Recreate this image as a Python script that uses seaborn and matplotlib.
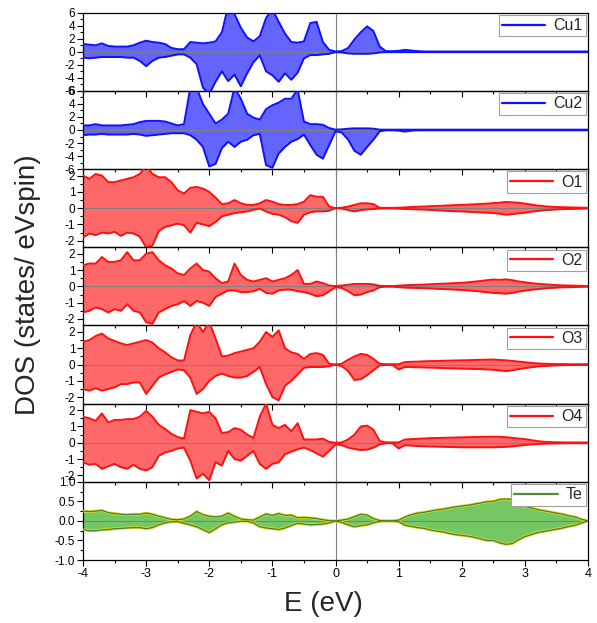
import numpy as np
import matplotlib
matplotlib.use("Agg")
import matplotlib.pyplot as plt
from matplotlib.lines import Line2D
from matplotlib.ticker import MultipleLocator, FormatStrFormatter
import seaborn as sns

# energy grid, 0.1 eV steps; each row below covers 1 eV (-4.0..-3.1, -3.0..-2.1, ...)
energy = np.round(np.linspace(-4, 4, 81), 2)

cu1_up = [1.2, 1.1, 1.0, 1.3, 0.9, 0.8, 0.8, 0.8, 1.0, 1.4,
          1.7, 1.5, 1.4, 1.2, 0.6, 0.4, 0.4, 1.5, 1.4, 1.3,
          1.4, 1.6, 3.0, 7.0, 5.8, 3.7, 2.2, 1.6, 2.4, 5.2,
          6.5, 4.6, 2.8, 1.5, 1.4, 1.6, 4.4, 4.6, 1.5, 0.3,
          0.05, 0.1, 0.6, 1.9, 3.0, 3.9, 3.2, 0.8, 0.1, 0.1,
          0.15, 0.3, 0.2, 0.1, 0.05, 0.05, 0.05, 0.05, 0.05, 0.05,
          0.05, 0.05, 0.05, 0.05, 0.05, 0.05, 0.05, 0.05, 0.05, 0.05,
          0.05, 0.05, 0.05, 0.05, 0.05, 0.05, 0.05, 0.05, 0.05, 0.05,
          0.05]
cu1_dn = [-0.9, -1.0, -0.9, -0.8, -0.8, -0.8, -0.8, -0.9, -0.9, -1.4,
          -2.2, -1.4, -0.9, -0.8, -0.6, -0.4, -0.4, -0.9, -1.9, -5.5,
          -6.5, -4.6, -3.0, -4.5, -3.5, -5.3, -3.3, -1.6, -0.55, -3.0,
          -3.6, -4.6, -3.3, -4.3, -3.2, -1.0, -0.5, -0.5, -0.4, -0.3,
          -0.05, -0.1, -0.25, -0.3, -0.3, -0.3, -0.25, -0.1, -0.05, -0.05,
          -0.05, -0.05, -0.05, -0.05, -0.05, -0.05, -0.05, -0.05, -0.05, -0.05,
          -0.05, -0.05, -0.05, -0.05, -0.05, -0.05, -0.05, -0.05, -0.05, -0.05,
          -0.05, -0.05, -0.05, -0.05, -0.05, -0.05, -0.05, -0.05, -0.05, -0.05,
          -0.05]

cu2_up = [0.7, 0.7, 0.9, 0.7, 0.7, 0.7, 0.7, 0.8, 0.9, 1.2,
          1.4, 1.4, 1.4, 1.3, 1.0, 0.7, 0.9, 6.5, 6.5, 4.0,
          2.5, 1.0, 1.6, 2.5, 6.5, 4.8, 2.5, 1.9, 1.6, 3.2,
          3.8, 4.2, 4.8, 4.8, 6.2, 1.3, 0.9, 0.9, 0.8, 0.3,
          0.05, 0.1, 0.2, 0.25, 0.25, 0.25, 0.2, 0.05, 0.05, 0.05,
          0.05, 0.05, 0.05, 0.05, 0.05, 0.05, 0.05, 0.05, 0.05, 0.05,
          0.05, 0.05, 0.05, 0.05, 0.05, 0.05, 0.05, 0.05, 0.05, 0.05,
          0.05, 0.05, 0.05, 0.05, 0.05, 0.05, 0.05, 0.05, 0.05, 0.05,
          0.05]
cu2_dn = [-0.8, -0.7, -0.7, -0.6, -0.7, -0.7, -0.7, -0.7, -0.6, -0.7,
          -0.9, -0.8, -0.7, -0.6, -0.5, -0.5, -0.5, -0.8, -1.5, -2.6,
          -5.6, -5.2, -2.8, -1.8, -2.6, -1.8, -1.5, -0.8, -0.6, -5.4,
          -5.8, -3.6, -2.6, -1.8, -1.4, -0.7, -2.3, -3.8, -4.4, -2.3,
          -0.2, -0.4, -1.5, -3.2, -3.8, -2.6, -1.5, -0.2, -0.05, -0.05,
          -0.1, -0.25, -0.1, -0.05, -0.05, -0.05, -0.05, -0.05, -0.05, -0.05,
          -0.05, -0.05, -0.05, -0.05, -0.05, -0.05, -0.05, -0.05, -0.05, -0.05,
          -0.05, -0.05, -0.05, -0.05, -0.05, -0.05, -0.05, -0.05, -0.05, -0.05,
          -0.05]

o1_up = [2.0, 1.8, 2.1, 2.0, 1.6, 1.6, 1.7, 1.8, 1.9, 2.1,
         2.6, 2.1, 1.9, 1.9, 1.6, 1.1, 0.9, 1.25, 1.3, 1.2,
         1.0, 0.65, 0.25, 0.3, 0.5, 0.3, 0.2, 0.2, 0.3, 0.5,
         0.4, 0.25, 0.2, 0.2, 0.25, 0.4, 0.8, 0.7, 0.7, 0.1,
         0.0, 0.03, 0.1, 0.2, 0.3, 0.3, 0.25, 0.02, 0.02, 0.02,
         0.03, 0.05, 0.07, 0.09, 0.1, 0.12, 0.14, 0.15, 0.17, 0.19,
         0.2, 0.22, 0.24, 0.26, 0.28, 0.31, 0.34, 0.38, 0.36, 0.33,
         0.28, 0.22, 0.16, 0.12, 0.09, 0.07, 0.06, 0.05, 0.04, 0.03,
         0.02]
o1_dn = [-1.8, -1.55, -1.65, -1.5, -1.55, -1.45, -1.7, -1.5, -1.55, -1.75,
         -2.4, -2.3, -1.4, -1.15, -1.05, -0.95, -1.05, -1.5, -0.9, -1.0,
         -1.1, -0.85, -0.5, -0.4, -0.3, -0.25, -0.2, -0.1, -0.02, -0.2,
         -0.35, -0.4, -0.55, -0.8, -0.9, -0.4, -0.25, -0.2, -0.2, -0.15,
         0.0, -0.02, -0.12, -0.2, -0.12, -0.08, -0.05, -0.02, -0.02, -0.02,
         -0.03, -0.05, -0.06, -0.08, -0.09, -0.11, -0.13, -0.15, -0.17, -0.19,
         -0.2, -0.22, -0.24, -0.26, -0.28, -0.3, -0.34, -0.4, -0.36, -0.32,
         -0.28, -0.22, -0.17, -0.13, -0.1, -0.08, -0.06, -0.05, -0.04, -0.03,
         -0.02]

o2_up = [1.3, 1.4, 1.4, 1.8, 1.5, 1.5, 1.6, 2.1, 1.6, 1.6,
         2.0, 2.1, 1.6, 1.3, 1.1, 0.8, 0.7, 1.1, 1.4, 1.0,
         0.9, 0.5, 0.2, 0.3, 1.4, 0.7, 0.4, 0.3, 0.4, 0.5,
         0.3, 0.4, 0.5, 0.7, 1.0, 0.15, 0.15, 0.3, 0.2, 0.05,
         0.02, 0.05, 0.1, 0.15, 0.15, 0.15, 0.12, 0.03, 0.02, 0.02,
         0.04, 0.07, 0.08, 0.1, 0.11, 0.13, 0.15, 0.16, 0.18, 0.2,
         0.22, 0.25, 0.29, 0.33, 0.38, 0.42, 0.4, 0.43, 0.38, 0.3,
         0.25, 0.2, 0.16, 0.13, 0.1, 0.08, 0.06, 0.05, 0.04, 0.03,
         0.02]
o2_dn = [-1.6, -1.5, -1.3, -1.4, -1.6, -1.4, -1.5, -1.1, -1.5, -1.6,
         -2.2, -2.3, -1.6, -1.4, -1.2, -1.1, -0.9, -1.2, -0.9, -1.0,
         -1.2, -0.65, -0.45, -0.25, -0.25, -0.35, -0.35, -0.3, -0.15, -0.4,
         -0.45, -0.25, -0.2, -0.2, -0.3, -0.35, -0.45, -0.6, -0.55, -0.3,
         -0.05, -0.1, -0.3, -0.55, -0.5, -0.35, -0.25, -0.05, -0.02, -0.02,
         -0.05, -0.08, -0.09, -0.1, -0.11, -0.13, -0.15, -0.16, -0.18, -0.2,
         -0.22, -0.25, -0.28, -0.32, -0.36, -0.4, -0.42, -0.45, -0.4, -0.32,
         -0.26, -0.21, -0.17, -0.13, -0.1, -0.08, -0.06, -0.05, -0.04, -0.03,
         -0.02]

o3_up = [1.4, 1.5, 1.75, 1.9, 1.6, 1.45, 1.3, 1.2, 1.3, 1.4,
         1.5, 1.35, 1.0, 0.75, 0.45, 0.25, 0.25, 1.8, 2.6, 2.0,
         2.6, 1.6, 0.5, 0.55, 0.7, 0.8, 0.9, 1.0, 1.4, 2.0,
         1.7, 2.1, 1.0, 0.75, 0.65, 0.35, 0.65, 0.7, 0.6, 0.05,
         0.0, 0.05, 0.3, 0.5, 0.65, 0.6, 0.35, 0.05, 0.02, 0.02,
         0.02, 0.15, 0.17, 0.18, 0.2, 0.21, 0.22, 0.23, 0.24, 0.25,
         0.26, 0.27, 0.28, 0.29, 0.3, 0.31, 0.28, 0.26, 0.22, 0.18,
         0.14, 0.1, 0.07, 0.05, 0.04, 0.03, 0.03, 0.02, 0.02, 0.02,
         0.02]
o3_dn = [-1.5, -1.6, -1.45, -1.6, -1.5, -1.4, -1.2, -1.2, -1.1, -1.1,
         -1.8, -1.3, -0.8, -0.6, -0.45, -0.3, -0.35, -0.8, -1.8, -1.5,
         -1.0, -0.7, -0.55, -0.7, -0.8, -0.8, -0.7, -0.45, -0.15, -1.2,
         -2.0, -2.2, -1.3, -1.0, -0.6, -0.2, -0.15, -0.15, -0.15, -0.1,
         0.0, -0.1, -0.4, -0.95, -0.9, -0.65, -0.35, -0.05, -0.02, -0.02,
         -0.3, -0.15, -0.16, -0.17, -0.18, -0.19, -0.2, -0.22, -0.23, -0.24,
         -0.25, -0.26, -0.27, -0.28, -0.3, -0.32, -0.36, -0.4, -0.35, -0.28,
         -0.22, -0.17, -0.12, -0.09, -0.07, -0.05, -0.04, -0.03, -0.03, -0.02,
         -0.02]

o4_up = [1.6, 1.5, 1.35, 1.8, 1.25, 1.4, 1.4, 1.45, 1.45, 1.6,
         1.95, 1.6, 1.1, 0.85, 0.55, 0.35, 0.25, 2.0, 1.9, 1.8,
         1.9, 1.5, 0.6, 0.65, 0.9, 0.8, 0.5, 0.3, 1.6, 2.4,
         1.1, 0.9, 1.1, 0.7, 1.2, 0.2, 0.2, 0.2, 0.25, 0.05,
         0.0, 0.02, 0.2, 0.5, 1.0, 1.05, 0.8, 0.1, 0.02, 0.02,
         0.02, 0.2, 0.22, 0.24, 0.26, 0.28, 0.29, 0.3, 0.31, 0.32,
         0.33, 0.34, 0.35, 0.36, 0.37, 0.37, 0.36, 0.34, 0.3, 0.26,
         0.22, 0.16, 0.1, 0.06, 0.04, 0.03, 0.02, 0.02, 0.02, 0.02,
         0.02]
o4_dn = [-1.2, -1.35, -1.3, -1.6, -1.45, -1.3, -1.5, -1.6, -1.35, -1.6,
         -1.7, -1.5, -0.8, -0.6, -0.5, -0.35, -0.3, -1.1, -2.2, -1.9,
         -2.3, -1.2, -1.4, -0.5, -1.0, -1.1, -0.8, -0.5, -1.3, -1.6,
         -1.3, -1.2, -0.7, -0.55, -0.4, -0.3, -0.45, -0.65, -0.85, -0.5,
         -0.1, -0.15, -0.3, -0.38, -0.45, -0.42, -0.3, -0.1, -0.03, -0.03,
         -0.35, -0.15, -0.18, -0.2, -0.22, -0.23, -0.24, -0.25, -0.26, -0.27,
         -0.28, -0.28, -0.28, -0.28, -0.28, -0.28, -0.27, -0.25, -0.22, -0.18,
         -0.14, -0.1, -0.08, -0.06, -0.05, -0.04, -0.04, -0.03, -0.03, -0.03,
         -0.03]

te_up = [0.25, 0.24, 0.25, 0.27, 0.21, 0.19, 0.17, 0.16, 0.17, 0.17,
         0.2, 0.17, 0.12, 0.08, 0.04, 0.03, 0.05, 0.12, 0.24, 0.16,
         0.12, 0.1, 0.12, 0.2, 0.12, 0.05, 0.03, 0.02, 0.1, 0.18,
         0.14, 0.19, 0.14, 0.15, 0.08, 0.09, 0.08, 0.06, 0.03, 0.01,
         0.0, 0.02, 0.05, 0.11, 0.17, 0.15, 0.06, 0.01, 0.0, 0.0,
         0.02, 0.1, 0.16, 0.2, 0.22, 0.25, 0.28, 0.3, 0.33, 0.36,
         0.38, 0.4, 0.43, 0.46, 0.49, 0.5, 0.55, 0.56, 0.55, 0.45,
         0.37, 0.33, 0.29, 0.26, 0.23, 0.2, 0.17, 0.13, 0.1, 0.04,
         0.0]
te_dn = [-0.23, -0.25, -0.25, -0.23, -0.22, -0.2, -0.19, -0.18, -0.17, -0.17,
         -0.2, -0.17, -0.1, -0.05, -0.02, -0.02, -0.06, -0.1, -0.15, -0.22,
         -0.3, -0.2, -0.1, -0.05, -0.03, -0.01, -0.01, -0.05, -0.15, -0.18,
         -0.2, -0.22, -0.18, -0.12, -0.06, -0.08, -0.1, -0.09, -0.08, -0.05,
         0.0, -0.04, -0.1, -0.15, -0.12, -0.1, -0.05, -0.01, 0.0, 0.0,
         -0.02, -0.11, -0.14, -0.17, -0.19, -0.23, -0.26, -0.28, -0.32, -0.35,
         -0.37, -0.39, -0.42, -0.46, -0.5, -0.5, -0.56, -0.6, -0.58, -0.48,
         -0.4, -0.35, -0.3, -0.27, -0.24, -0.21, -0.18, -0.14, -0.11, -0.05,
         0.0]

labels = ["Cu1", "Cu2", "O1", "O2", "O3", "O4", "Te"]
ups = [cu1_up, cu2_up, o1_up, o2_up, o3_up, o4_up, te_up]
downs = [cu1_dn, cu2_dn, o1_dn, o2_dn, o3_dn, o4_dn, te_dn]

# styling per panel: (line colour, fill colour, y-limit, major step, minor step)
styles = {
    "Cu": ("#1010ff", "#6464ff", 6, 2, 1),
    "O": ("#ff1010", "#ff6868", 2.4, 1, 0.5),
    "Te": ("#4e7f1c", "#74c864", 1.0, 0.5, 0.25),
}

sns.set_theme(style="ticks")
plt.rcParams["font.family"] = ["Liberation Sans", "DejaVu Sans"]
plt.rcParams["axes.unicode_minus"] = False

fig, axes = plt.subplots(7, 1, figsize=(5.97, 6.23), dpi=100, sharex=True,
                         gridspec_kw={"hspace": 0})
fig.subplots_adjust(left=0.139, right=0.985, top=0.9796, bottom=0.1011)

for ax, name, up, dn in zip(axes, labels, ups, downs):
    assert len(up) == len(energy) and len(dn) == len(energy)
    key = "Cu" if name.startswith("Cu") else ("O" if name.startswith("O") else "Te")
    line_c, fill_c, lim, major, minor = styles[key]

    ax.patch.set_alpha(0)
    ax.fill_between(energy, 0, up, color=fill_c, lw=0, zorder=1)
    ax.fill_between(energy, 0, dn, color=fill_c, lw=0, zorder=1)
    ax.axhline(0, color="#808080", lw=0.8, zorder=2)
    ax.axvline(0, color="#808080", lw=0.8, zorder=2)
    if key == "Te":
        sns.lineplot(x=energy, y=up, ax=ax, color="#d6dc3c", lw=2.0, zorder=3)
        sns.lineplot(x=energy, y=dn, ax=ax, color="#d6dc3c", lw=2.0, zorder=3)
        lw = 0.9
    else:
        lw = 1.4
    sns.lineplot(x=energy, y=up, ax=ax, color=line_c, lw=lw, zorder=4)
    sns.lineplot(x=energy, y=dn, ax=ax, color=line_c, lw=lw, zorder=4)

    ax.set_xlim(-4, 4)
    ax.set_ylim(-lim, lim)
    ax.yaxis.set_major_locator(MultipleLocator(major))
    ax.yaxis.set_minor_locator(MultipleLocator(minor))
    ax.xaxis.set_major_locator(MultipleLocator(1))
    ax.xaxis.set_minor_locator(MultipleLocator(0.5))
    if key == "Te":
        ax.yaxis.set_major_formatter(FormatStrFormatter("%.1f"))
    ax.tick_params(which="both", direction="out", labelsize=8.5, width=0.8,
                   pad=1.5, colors="black")
    ax.tick_params(which="major", length=4)
    ax.tick_params(which="minor", length=2)
    for sp in ax.spines.values():
        sp.set_visible(True)
        sp.set_linewidth(0.9)
        sp.set_color("black")
    ax.set_xlabel("")
    ax.set_ylabel("")

    leg_c = "#4f8f2f" if key == "Te" else line_c
    handle = Line2D([], [], color=leg_c, lw=1.6)
    leg = ax.legend([handle], [name], loc="upper right", fontsize=11.5,
                    frameon=True, fancybox=False, framealpha=1,
                    edgecolor="#a0a0a0", borderpad=0.2, borderaxespad=0.15,
                    handlelength=2.7, handletextpad=0.5)
    leg.get_frame().set_linewidth(0.8)
    leg.set_zorder(10)

axes[-1].tick_params(axis="x", labelsize=9)

fig.text(0.047, 0.543, "DOS (states/ eVspin)", rotation=90, ha="center",
         va="center", fontsize=20)
fig.text(0.542, 0.03, "E (eV)", ha="center", va="center", fontsize=20)

fig.savefig("out.png", dpi=100)
